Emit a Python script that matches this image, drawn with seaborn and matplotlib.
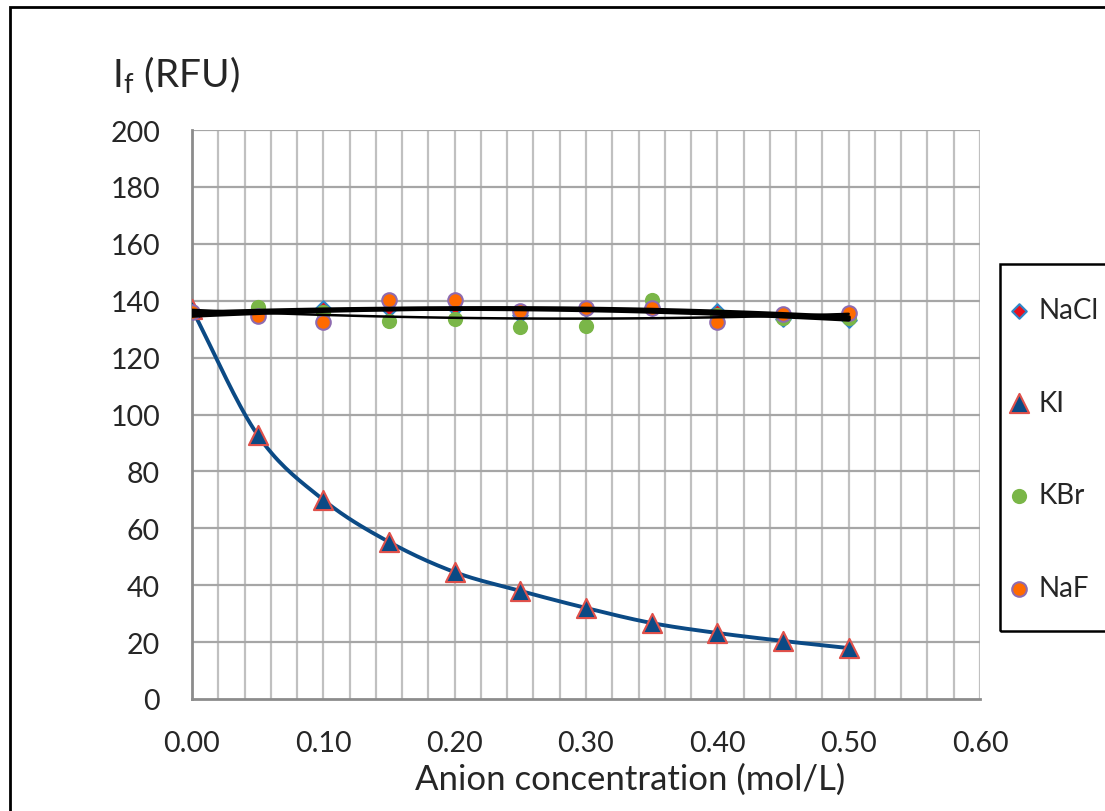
import numpy as np
import pandas as pd
import matplotlib.pyplot as plt
import seaborn as sns
from matplotlib.patches import Rectangle

conc = [0.00, 0.05, 0.10, 0.15, 0.20, 0.25, 0.30, 0.35, 0.40, 0.45, 0.50]
nacl = [136.0, 136.0, 137.3, 137.0, 137.5, 135.0, 137.0, 137.5, 136.5, 133.6, 133.2]
ki = [137.0, 92.8, 70.0, 55.2, 44.6, 38.0, 32.0, 26.7, 23.2, 20.4, 17.9]
kbr = [136.0, 137.7, 136.0, 133.0, 133.6, 130.6, 131.2, 140.4, 135.0, 134.0, 134.0]
naf = [136.0, 134.5, 132.4, 140.2, 140.2, 136.5, 137.3, 137.3, 132.5, 135.3, 135.7]

df = pd.DataFrame({'c': conc, 'NaCl': nacl, 'KI': ki, 'KBr': kbr, 'NaF': naf})


def smooth(x, y, n=20):
    # catmull-rom style smoothing like excel's "smoothed line"
    x = np.asarray(x, float)
    y = np.asarray(y, float)
    px = np.concatenate([[2 * x[0] - x[1]], x, [2 * x[-1] - x[-2]]])
    py = np.concatenate([[2 * y[0] - y[1]], y, [2 * y[-1] - y[-2]]])
    xs, ys = [], []
    t = np.linspace(0, 1, n)
    for i in range(1, len(px) - 2):
        for p, out in ((px, xs), (py, ys)):
            p0, p1, p2, p3 = p[i - 1], p[i], p[i + 1], p[i + 2]
            out.extend(0.5 * ((2 * p1) + (-p0 + p2) * t
                              + (2 * p0 - 5 * p1 + 4 * p2 - p3) * t ** 2
                              + (-p0 + 3 * p1 - 3 * p2 + p3) * t ** 3))
    return np.array(xs), np.array(ys)


sns.set_style('white')
plt.rcParams['font.family'] = ['Lato', 'DejaVu Sans']

fig = plt.figure(figsize=(11.05, 8.12), dpi=100)
ax = fig.add_axes([192 / 1105, 1 - 700 / 812, 788 / 1105, 569 / 812])

# outer chart border
fig.patches.append(Rectangle((10 / 1105, -0.01), 1.0, 1 - 8 / 812 + 0.01,
                             transform=fig.transFigure, fill=False,
                             edgecolor='black', linewidth=2, zorder=0))
# legend box
fig.patches.append(Rectangle((1000 / 1105, 1 - 632 / 812), 0.2, 367 / 812,
                             transform=fig.transFigure, fill=False,
                             edgecolor='black', linewidth=1.8, zorder=0))

# KI curve
sx, sy = smooth(df['c'], df['KI'])
ax.plot(sx, sy, color='#0b4a85', lw=2.8, zorder=3)

sns.scatterplot(data=df, x='c', y='NaCl', marker='D', s=55, color='#e8101e',
                edgecolor='#2e86c8', linewidth=1.5, label='NaCl', ax=ax, zorder=4)
sns.scatterplot(data=df, x='c', y='KI', marker='^', s=190, color='#0b4a85',
                edgecolor='#e0504a', linewidth=1.5, label='KI', ax=ax, zorder=4)
sns.scatterplot(data=df, x='c', y='KBr', marker='o', s=120, color='#7ab648',
                edgecolor='#7ab648', linewidth=0, label='KBr', ax=ax, zorder=4)
sns.scatterplot(data=df, x='c', y='NaF', marker='o', s=110, color='#ff6a00',
                edgecolor='#8e6bb0', linewidth=1.5, label='NaF', ax=ax, zorder=4)

# black trendlines for the flat series
xfit = np.linspace(0, 0.5, 100)
for col, lw in (('NaCl', 3.2), ('KBr', 1.8), ('NaF', 3.2)):
    coef = np.polyfit(df['c'], df[col], 2)
    ax.plot(xfit, np.polyval(coef, xfit), color='black', lw=lw, zorder=5)

ax.set_xlim(0, 0.6)
ax.set_ylim(0, 200)
ax.set_xticks(np.arange(0, 0.61, 0.1))
ax.set_xticklabels([f'{v:.2f}' for v in np.arange(0, 0.61, 0.1)])
ax.set_yticks(np.arange(0, 201, 20))

ax.grid(False)
for v in np.arange(0.02, 0.601, 0.02):
    ax.axvline(v, color='#c0c0c0', lw=1.6, zorder=1)
for v in np.arange(20, 201, 20):
    ax.axhline(v, color='#a6a6a6', lw=1.6, zorder=1)

for s in ('top', 'right'):
    ax.spines[s].set_visible(False)
for s in ('left', 'bottom'):
    ax.spines[s].set_color('#8c8c8c')
    ax.spines[s].set_linewidth(2)
ax.tick_params(axis='both', which='major', direction='out', length=7,
               width=1.6, color='#8c8c8c', labelsize=20.5)
ax.tick_params(axis='x', pad=15)
ax.tick_params(axis='y', pad=16)

ax.set_xlabel('Anion concentration (mol/L)', fontsize=25)
ax.xaxis.label.set_va('center')
ax.xaxis.set_label_coords(438 / 788, -80 / 569)
ax.set_ylabel('')
fig.text(112 / 1105, 1 - 75 / 812, r'I$_\mathregular{f}$ (RFU)', fontsize=28,
         ha='left', va='center')

leg = ax.legend(loc='upper left', bbox_to_anchor=(1007 / 1105, 1 - 298 / 812),
                bbox_transform=fig.transFigure, frameon=False, fontsize=20,
                labelspacing=2.4, handletextpad=0.3, borderpad=0,
                handlelength=0.85, borderaxespad=0)

fig.savefig('out.png', dpi=100)
